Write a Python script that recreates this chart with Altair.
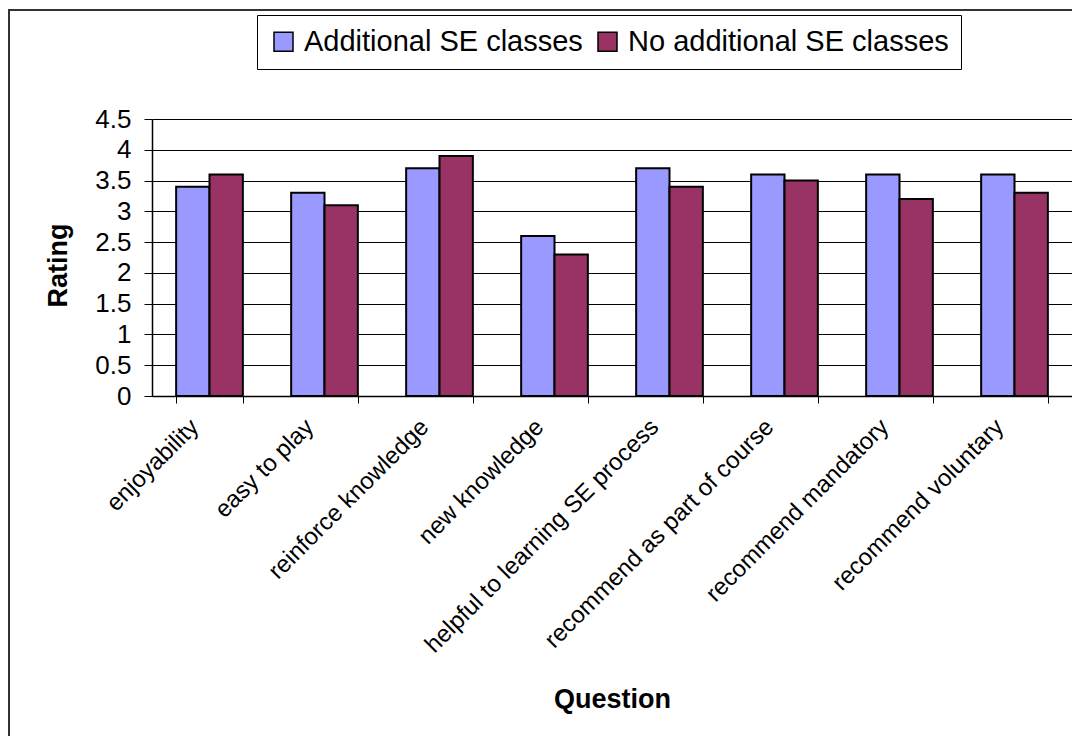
import altair as alt
import pandas as pd

questions = [
    "enjoyability",
    "easy to play",
    "reinforce knowledge",
    "new knowledge",
    "helpful to learning SE process",
    "recommend as part of course",
    "recommend mandatory",
    "recommend voluntary",
]
additional = [3.4, 3.3, 3.7, 2.6, 3.7, 3.6, 3.6, 3.6]
no_additional = [3.6, 3.1, 3.9, 2.3, 3.4, 3.5, 3.2, 3.3]
series = ["Additional SE classes", "No additional SE classes"]
colors = ["#9999FF", "#993366"]
y_ticks = [0, 0.5, 1, 1.5, 2, 2.5, 3, 3.5, 4, 4.5]

rows = []
for q, a, n in zip(questions, additional, no_additional):
    rows.append({"Question": q, "Group": series[0], "Rating": a})
    rows.append({"Question": q, "Group": series[1], "Rating": n})
df = pd.DataFrame(rows)

FONT = "Liberation Sans"

bars = alt.Chart(df).mark_bar(stroke="black", strokeWidth=2).encode(
    x=alt.X(
        "Question:N",
        sort=questions,
        scale=alt.Scale(paddingInner=0.42, paddingOuter=0.21),
        axis=alt.Axis(
            title="Question",
            labelAngle=-45,
            labelAlign="right",
            labelBaseline="middle",
            labelFontSize=24,
            labelFont=FONT,
            labelColor="black",
            labelPadding=20,
            labelOffset=-15,
            labelLimit=600,
            tickBand="extent",
            tickSize=7,
            tickColor="black",
            domainColor="black",
            domainWidth=1.5,
            grid=False,
            titleFont=FONT,
            titleFontSize=27,
            titleFontWeight="bold",
            titleColor="black",
            titleY=311,
            titleBaseline="alphabetic",
        ),
    ),
    xOffset=alt.XOffset("Group:N", sort=series, scale=alt.Scale(paddingInner=0, paddingOuter=0)),
    y=alt.Y(
        "Rating:Q",
        scale=alt.Scale(domain=[0, 4.5], nice=False),
        axis=alt.Axis(
            title="Rating",
            values=y_ticks,
            format="~g",
            labelFontSize=26,
            labelFont=FONT,
            labelColor="black",
            labelPadding=13,
            tickSize=8,
            tickColor="black",
            domainColor="black",
            domainWidth=1.5,
            grid=True,
            gridColor="black",
            gridWidth=1,
            titleFont=FONT,
            titleFontSize=27,
            titleFontWeight="bold",
            titleColor="black",
            titleAngle=270,
            titleX=-86,
            titleY=146,
            titleAlign="center",
            titleBaseline="alphabetic",
        ),
    ),
    color=alt.Color(
        "Group:N",
        sort=series,
        scale=alt.Scale(domain=series, range=colors),
        legend=alt.Legend(
            title=None,
            orient="none",
            legendX=105,
            legendY=-104,
            direction="horizontal",
            labelFont=FONT,
            labelFontSize=29,
            labelColor="black",
            labelLimit=600,
            labelOffset=6,
            symbolType="square",
            symbolSize=361,
            symbolStrokeColor="black",
            symbolStrokeWidth=1.5,
            symbolOpacity=1,
            strokeColor="black",
            fillColor="white",
            padding=12,
            columnPadding=10,
        ),
    ),
)

frame_left = alt.Chart(df).mark_rule(color="#333333", strokeWidth=2).encode(
    x=alt.value(-143.5), y=alt.value(-109), y2=alt.value(640)
)
frame_top = alt.Chart(df).mark_rule(color="#333333", strokeWidth=2).encode(
    x=alt.value(-144), x2=alt.value(940), y=alt.value(-109)
)

chart = alt.layer(bars, frame_left, frame_top).properties(
    width=920,
    height=277,
    padding={"left": 144, "top": 111, "right": 0, "bottom": 340},
    autosize=alt.AutoSizeParams(type="none"),
).configure_view(
    fill="#C0C0C0", stroke="#808080", strokeWidth=1.5
).configure(background="white")

chart.save("out.html", embed_options={"renderer": "svg", "actions": False})
